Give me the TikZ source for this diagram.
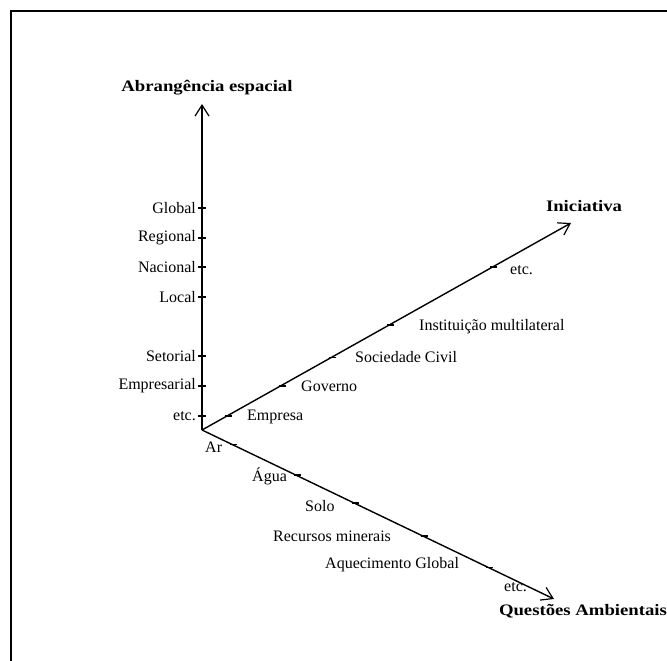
\documentclass[tikz,border=0pt]{standalone}
\usepackage{fontspec}
\setmainfont{Liberation Serif}
\usetikzlibrary{arrows.meta}
\newcommand{\widetitle}[1]{\scalebox{1.17}[1]{#1}}
\begin{document}
\begin{tikzpicture}[x=1pt,y=-1pt,
  axis/.style={line width=1.4pt,-{Straight Barb[length=11pt,width=14pt,line width=1.2pt]}},
  tickmark/.style={line width=1.4pt},
  lbl/.style={inner sep=0pt,font=\fontsize{16}{19}\selectfont},
  title/.style={inner sep=0pt,font=\fontsize{16}{19}\selectfont\bfseries},
  frameline/.style={line width=2.2pt}]
\useasboundingbox (0,0) rectangle (667,661);
% frame (top and left edges)
\coordinate (fa) at (11,661);
\coordinate (fb) at (11,11);
\coordinate (fc) at (667,11);
\draw[frameline] (fa) -- (fb) -- (fc);

% axes
\coordinate (O) at (202,430);
\coordinate (up) at (202,104);
\coordinate (ini) at (571,223);
\coordinate (qa) at (554,599);
\draw[axis] (O) -- (up);
\draw[axis] (O) -- (ini);
\draw[axis] (O) -- (qa);

\node[title] (tup) at (207,88) {\widetitle{Abrangência espacial}};
\node[title] (tini) at (584,206) {\widetitle{Iniciativa}};
\node[title] (tqa) at (583,611) {\widetitle{Questões Ambientais}};

% spatial scope ticks and labels
\foreach \y/\name/\txt in {208/v1/Global,238/v2/Regional,267/v3/Nacional,297/v4/Local,356/v5/Setorial,386/v6/Empresarial,416/v7/etc.}{
  \coordinate (\name) at (202,\y);
  \draw[tickmark] (\name) ++(-4,0) -- ++(8,0);
  \node[lbl,anchor=east] (l\name) at (196,\y) {\txt};
}

% initiative ticks
\path (O) -- (ini)
  coordinate[pos=0.071] (i1)
  coordinate[pos=0.217] (i2)
  coordinate[pos=0.353] (i3)
  coordinate[pos=0.511] (i4)
  coordinate[pos=0.791] (i5);
\foreach \p in {i1,i2,i3,i4,i5}{
  \draw[tickmark] (\p) ++(-3.5,0.8) -- ++(7,0);
}
\node[lbl,anchor=west] (li1) at (247,417) {Empresa};
\node[lbl,anchor=west] (li2) at (301,386) {Governo};
\node[lbl,anchor=west] (li3) at (355,357) {Sociedade Civil};
\node[lbl,anchor=west] (li4) at (419,327) {Instituição multilateral};
\node[lbl,anchor=west] (li5) at (510,270) {etc.};

% environmental issues ticks
\path (O) -- (qa)
  coordinate[pos=0.089] (q1)
  coordinate[pos=0.271] (q2)
  coordinate[pos=0.437] (q3)
  coordinate[pos=0.631] (q4)
  coordinate[pos=0.817] (q5);
\foreach \p in {q1,q2,q3,q4,q5}{
  \draw[tickmark] (\p) ++(-3.5,-0.8) -- ++(7,0);
}
\node[lbl,anchor=west] (lq1) at (205,447) {Ar};
\node[lbl,anchor=west] (lq2) at (252,476) {Água};
\node[lbl,anchor=west] (lq3) at (305,506) {Solo};
\node[lbl,anchor=west] (lq4) at (273,536) {Recursos minerais};
\node[lbl,anchor=west] (lq5) at (325,565) {Aquecimento Global};
\node[lbl,anchor=west] (lq6) at (504,587) {etc.};
\end{tikzpicture}
\end{document}
